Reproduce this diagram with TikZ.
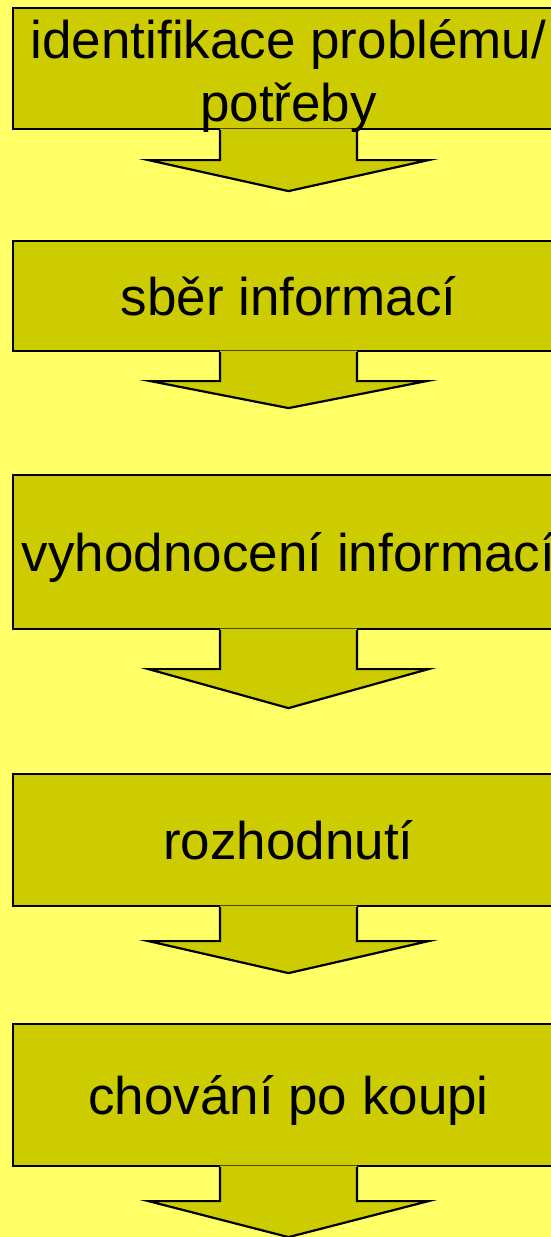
\documentclass[tikz,border=0pt]{standalone}
\usepackage{fontspec}
\setmainfont{Liberation Sans}
\usetikzlibrary{positioning}

\definecolor{paper}{HTML}{FFFF66}
\definecolor{stagefill}{HTML}{CCCC00}

\tikzset{
  stage/.style={draw=black, line width=2.2pt, fill=stagefill, minimum width=551pt, inner sep=0pt},
  stagetext/.style={font=\fontsize{53}{63}\selectfont, inner sep=0pt, anchor=base},
  arrowfill/.style={fill=stagefill},
  arrowline/.style={draw=black, line width=2.2pt, miter limit=20},
}

\begin{document}
\begin{tikzpicture}[x=1pt, y=1pt]
            \clip (0,0) rectangle (551,-1237);
            \fill[paper] (0,0) rectangle (551,-1237);

            \node[stage, minimum height=121pt] (b1) at (288.5,-68.5) {};
            \node[stage, minimum height=110pt] (b2) at (288.5,-296) {};
            \node[stage, minimum height=154pt] (b3) at (288.5,-552) {};
            \node[stage, minimum height=132pt] (b4) at (288.5,-840) {};
            \node[stage, minimum height=142pt] (b5) at (288.5,-1095) {};

            \path (b1.south) ++(0,-30) coordinate (s1) ++(0,-31) coordinate (t1);
            \path (b2.south) ++(0,-29) coordinate (s2) ++(0,-27) coordinate (t2);
            \path (b3.south) ++(0,-39) coordinate (s3) ++(0,-39) coordinate (t3);
            \path (b4.south) ++(0,-34) coordinate (s4) ++(0,-32) coordinate (t4);
            \path (b5.south) ++(0,-34) coordinate (s5) ++(0,-36) coordinate (t5);

            \fill[arrowfill] ([xshift=-68.5pt,yshift=1.5pt]b1.south) |- ([xshift=-140pt]s1) -- (t1) -- ([xshift=140pt]s1) -| ([xshift=68.5pt,yshift=1.5pt]b1.south) -- cycle;
            \draw[arrowline] ([xshift=-68.5pt]b1.south) |- ([xshift=-140pt]s1) -- (t1) -- ([xshift=140pt]s1) -| ([xshift=68.5pt]b1.south);
            \fill[arrowfill] ([xshift=-68.5pt,yshift=1.5pt]b2.south) |- ([xshift=-138pt]s2) -- (t2) -- ([xshift=138pt]s2) -| ([xshift=68.5pt,yshift=1.5pt]b2.south) -- cycle;
            \draw[arrowline] ([xshift=-68.5pt]b2.south) |- ([xshift=-138pt]s2) -- (t2) -- ([xshift=138pt]s2) -| ([xshift=68.5pt]b2.south);
            \fill[arrowfill] ([xshift=-68.5pt,yshift=1.5pt]b3.south) |- ([xshift=-140pt]s3) -- (t3) -- ([xshift=140pt]s3) -| ([xshift=68.5pt,yshift=1.5pt]b3.south) -- cycle;
            \draw[arrowline] ([xshift=-68.5pt]b3.south) |- ([xshift=-140pt]s3) -- (t3) -- ([xshift=140pt]s3) -| ([xshift=68.5pt]b3.south);
            \fill[arrowfill] ([xshift=-68.5pt,yshift=1.5pt]b4.south) |- ([xshift=-140pt]s4) -- (t4) -- ([xshift=140pt]s4) -| ([xshift=68.5pt,yshift=1.5pt]b4.south) -- cycle;
            \draw[arrowline] ([xshift=-68.5pt]b4.south) |- ([xshift=-140pt]s4) -- (t4) -- ([xshift=140pt]s4) -| ([xshift=68.5pt]b4.south);
            \fill[arrowfill] ([xshift=-68.5pt,yshift=1.5pt]b5.south) |- ([xshift=-140pt]s5) -- (t5) -- ([xshift=140pt]s5) -| ([xshift=68.5pt,yshift=1.5pt]b5.south) -- cycle;
            \draw[arrowline] ([xshift=-68.5pt]b5.south) |- ([xshift=-140pt]s5) -- (t5) -- ([xshift=140pt]s5) -| ([xshift=68.5pt]b5.south);

            \node[stagetext, anchor=north, align=center] (l1) at (288.5,-19) {identifikace problému/\\potřeby};
            \node[stagetext] (l2) at ([yshift=-19.5pt]b2.center) {sběr informací};
            \node[stagetext] (l3) at ([yshift=-19.5pt]b3.center) {vyhodnocení informací};
            \node[stagetext] (l4) at ([yshift=-19.5pt]b4.center) {rozhodnutí};
            \node[stagetext] (l5) at ([yshift=-19.5pt]b5.center) {chování po koupi};
        \end{tikzpicture}
\end{document}
